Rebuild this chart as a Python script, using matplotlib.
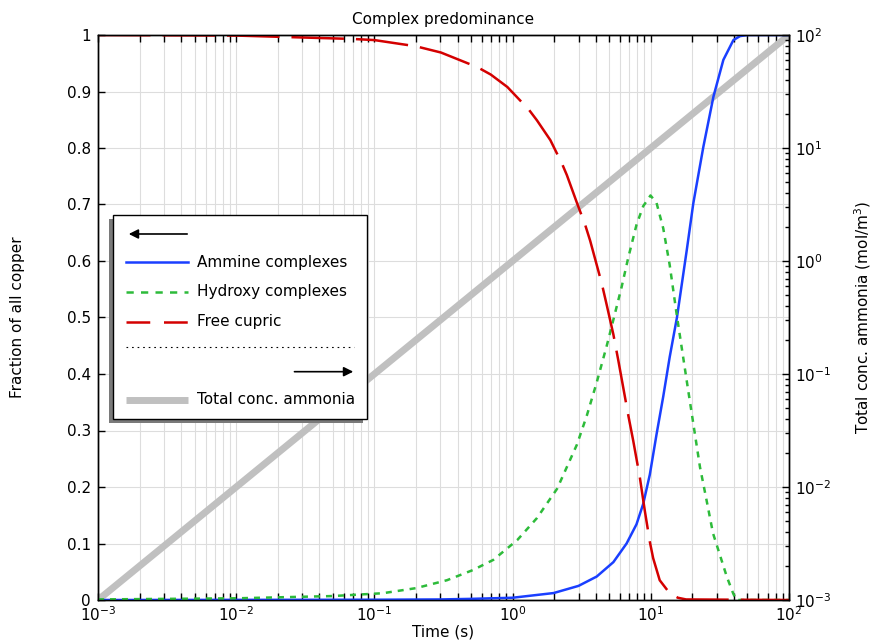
import numpy as np
import matplotlib
matplotlib.use('Agg')
import matplotlib.pyplot as plt
import matplotlib.ticker as mticker
from matplotlib.patches import Rectangle

# values
# free cupric (red, long dashes)
t_free = [0.001, 0.01, 0.07, 0.1, 0.2, 0.303, 0.557, 0.695, 0.916, 1.31, 1.50, 1.875, 2.28,
          2.47, 2.92, 3.35, 3.64, 4.42, 4.80, 5.36, 5.82, 6.87, 7.46, 8.33, 9.05, 9.84,
          10.4, 11.6, 13.7, 15.7, 18.0, 100.0]
free_cupric = [1.0, 0.999, 0.993, 0.991, 0.98, 0.969, 0.943, 0.930, 0.908, 0.868, 0.849, 0.814, 0.772,
               0.752, 0.703, 0.664, 0.636, 0.56, 0.522, 0.470, 0.424, 0.327, 0.282, 0.217, 0.158, 0.103,
               0.074, 0.035, 0.012, 0.004, 0.001, 0.0]

# hydroxy complexes (green, dotted)
t_hydroxy = [0.001, 0.01, 0.05, 0.115, 0.2, 0.335, 0.516, 0.725, 1.08, 1.50, 2.10, 2.92, 3.44,
             4.06, 4.80, 5.36, 6.15, 6.87, 7.88, 8.81, 9.95, 11.0, 12.3, 13.7, 15.4, 18.3,
             22.7, 25.3, 28.2, 35.5, 39.4, 41.5, 100.0]
hydroxy = [0.001, 0.003, 0.007, 0.012, 0.021, 0.035, 0.053, 0.071, 0.106, 0.145, 0.197, 0.275, 0.326,
           0.385, 0.45, 0.496, 0.554, 0.606, 0.664, 0.697, 0.716, 0.703, 0.658, 0.593, 0.505, 0.384,
           0.235, 0.177, 0.118, 0.041, 0.012, 0.0, 0.0]

# ammine complexes (blue, solid)
t_ammine = [0.001, 0.1, 0.3, 0.5, 1.0, 1.98, 3.0, 4.06, 5.36, 6.68, 7.88, 8.81, 9.84, 11.0,
            12.3, 13.7, 15.46, 18.2, 20.3, 24.0, 28.4, 33.5, 39.6, 44.2, 50.0, 100.0]
ammine = [0.0, 0.0005, 0.001, 0.002, 0.004, 0.0123, 0.025, 0.0415, 0.067, 0.10, 0.134, 0.17, 0.222, 0.293,
          0.36, 0.43, 0.50, 0.619, 0.702, 0.802, 0.891, 0.956, 0.991, 0.998, 1.0, 1.0]

# total ammonia concentration (right axis, mol/m^3)
t_total = [0.001, 100.0]
total_ammonia = [0.001, 100.0]

BLUE = '#1a3fff'
GREEN = '#2dbb3a'
RED = '#d40000'
GRAY = '#c0c0c0'


def draw_legend(ax):
    # hand made legend box with shadow, like the reference
    x0, x1 = 0.0224, 0.3893
    y0, y1 = 0.3195, 0.6823
    ax.add_patch(Rectangle((x0 - 0.0058, y0 - 0.0071), x1 - x0, y1 - y0, transform=ax.transAxes,
                           facecolor='#7a7a7a', edgecolor='none', zorder=10, clip_on=False))
    ax.add_patch(Rectangle((x0, y0), x1 - x0, y1 - y0, transform=ax.transAxes,
                           facecolor='white', edgecolor='black', lw=1.0, zorder=11, clip_on=False))
    lx0, lx1, tx = 0.0405, 0.1302, 0.1428
    # left arrow -> left axis
    ax.annotate('', xy=(lx0, 0.6478), xytext=(0.1331, 0.6478), xycoords='axes fraction',
                arrowprops=dict(arrowstyle='-|>', color='black', lw=1.2, mutation_scale=14), zorder=12)
    ax.plot([lx0, lx1], [0.5977, 0.5977], transform=ax.transAxes, color=BLUE, lw=1.8, zorder=12)
    ax.text(tx, 0.5977, 'Ammine complexes', transform=ax.transAxes, va='center', zorder=12)
    ax.plot([lx0, lx1], [0.5457, 0.5457], transform=ax.transAxes, color=GREEN, lw=1.8,
            dashes=(2.9, 2.9), zorder=12)
    ax.text(tx, 0.5457, 'Hydroxy complexes', transform=ax.transAxes, va='center', zorder=12)
    ax.plot([lx0, lx1], [0.4926, 0.4926], transform=ax.transAxes, color=RED, lw=1.8,
            dashes=(9.5, 5.5), zorder=12)
    ax.text(tx, 0.4926, 'Free cupric', transform=ax.transAxes, va='center', zorder=12)
    ax.plot([lx0, 0.3705], [0.4483, 0.4483], transform=ax.transAxes, color='black', lw=0.8,
            dashes=(1.5, 3.5), zorder=12)
    # right arrow -> right axis
    ax.annotate('', xy=(0.3734, 0.4041), xytext=(0.2803, 0.4041), xycoords='axes fraction',
                arrowprops=dict(arrowstyle='-|>', color='black', lw=1.2, mutation_scale=14), zorder=12)
    ax.plot([lx0, lx1], [0.354, 0.354], transform=ax.transAxes, color=GRAY, lw=5, zorder=12,
            solid_capstyle='butt')
    ax.text(tx, 0.354, 'Total conc. ammonia', transform=ax.transAxes, va='center', zorder=12)


def main():
    plt.rcParams['font.family'] = 'DejaVu Sans'
    plt.rcParams['font.size'] = 11

    fig = plt.figure(figsize=(8.78, 6.4), dpi=100)
    ax = fig.add_axes([98 / 878, 40 / 640, 691 / 878, 565 / 640])
    ax_r = ax.twinx()

    ax.set_xscale('log')
    ax.set_xlim(1e-3, 1e2)
    ax.set_ylim(0, 1)
    ax_r.set_yscale('log')
    ax_r.set_ylim(1e-3, 1e2)

    # gray line belongs to right axis, drawn under the other curves
    ax.plot(t_total, total_ammonia, transform=ax_r.transData, color=GRAY, lw=5, zorder=1,
            solid_capstyle='butt')
    ax.plot(t_ammine, ammine, color=BLUE, lw=1.8, zorder=3)
    ax.plot(t_hydroxy, hydroxy, color=GREEN, lw=1.8, dashes=(2.4, 2.4), zorder=3)
    ax.plot(t_free, free_cupric, color=RED, lw=1.8, dashes=(21, 4.8), zorder=3)

    # ticks and grid
    ax.xaxis.set_major_locator(mticker.LogLocator(base=10, numticks=20))
    ax.xaxis.set_minor_locator(mticker.LogLocator(base=10, subs=np.arange(2, 10), numticks=20))
    ax.xaxis.set_minor_formatter(mticker.NullFormatter())
    ax.yaxis.set_major_locator(mticker.MultipleLocator(0.1))
    ax.yaxis.set_major_formatter(mticker.FuncFormatter(lambda v, p: '%g' % round(v, 1)))
    ax_r.yaxis.set_major_locator(mticker.LogLocator(base=10, numticks=20))
    ax_r.yaxis.set_minor_locator(mticker.LogLocator(base=10, subs=np.arange(2, 10), numticks=20))
    ax_r.yaxis.set_minor_formatter(mticker.NullFormatter())

    ax.tick_params(axis='x', which='both', direction='in', top=True, length=5, width=1.0, pad=4)
    ax.tick_params(axis='y', which='both', direction='in', length=5, width=1.0, pad=5)
    ax_r.tick_params(axis='y', which='major', direction='in', length=5, width=1.0, pad=4)
    ax_r.tick_params(axis='y', which='minor', direction='in', length=3, width=1.0)

    ax.grid(True, which='both', axis='x', color='#dddddd', lw=0.8)
    ax.grid(True, which='major', axis='y', color='#dddddd', lw=0.8)
    ax.set_axisbelow(True)
    for a in (ax, ax_r):
        for s in a.spines.values():
            s.set_linewidth(1.0)

    ax.set_title('Complex predominance', fontsize=11, pad=8)
    ax.set_xlabel('Time (s)')
    ax.xaxis.set_label_coords(0.5, -0.044)
    ax.set_ylabel('Fraction of all copper')
    ax.yaxis.set_label_coords(-0.1056, 0.5)
    ax_r.set_ylabel('Total conc. ammonia (mol/m$^3$)')
    ax_r.yaxis.set_label_coords(1.0922, 0.5)

    draw_legend(ax)

    fig.savefig('out.png', dpi=100)


if __name__ == '__main__':
    main()
